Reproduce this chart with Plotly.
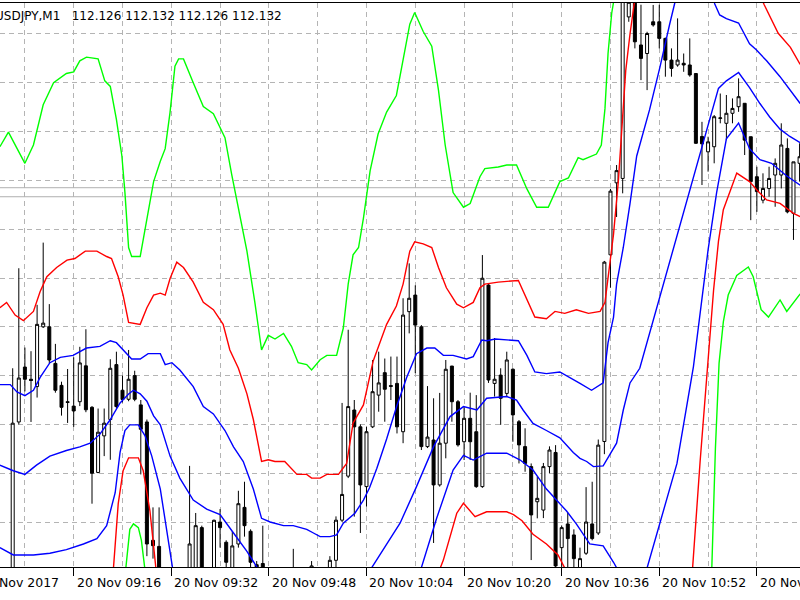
import plotly.graph_objects as go

# ---------------- data ----------------
# Prices are stored in points (0.001) above BASE_PRICE
BASE_PRICE = 112.000
POINT = 0.001

# x axis: minutes after 20 Nov 2017 09:00 (M1 bars)
X_LEFT, X_RIGHT = 3.918, 135.07
Y_BOTTOM, Y_TOP = -18.44, 212.7          # visible price window (points)

LABEL_T = [0, 16, 32, 48, 64, 80, 96, 112, 128]
LABEL_TXT = ["20 Nov 2017", "20 Nov 09:16", "20 Nov 09:32", "20 Nov 09:48",
             "20 Nov 10:04", "20 Nov 10:20", "20 Nov 10:36", "20 Nov 10:52",
             "20 Nov 11:08"]
GRID_P = [0, 20, 40, 60, 80, 100, 120, 140, 160, 180, 200]
BID_P, ASK_P = 133.3, 137.0
HEADER = "USDJPY,M1\u00a0\u00a0\u00a0112.126 112.132 112.126 112.132"

BAR_T = list(range(6, 136))
OPEN = [-25, 41, 63.5, 58.5, 55.5, 80, 80, 65, 56, 49.3, 47.5, 49.3, 64, 47, 20.3, 35.3, 42, 64.5, 54, 50.3,
        60, 48, 41, -7.5, -10, -25, -30, -27, -24, -25, -22, -2.3, -22, -22, 0, -8.3, -21, -9, 6, -3.8,
        -17.5, -17, -21, -27, -30, -28, -25, -22, -26, -22, -20, -24, -20, -15.7, 0.75, 18.8, 45.9, 39, 14.5, 39,
        52, 61.2, 55.9, 56.8, 37, 86.2, 93, 80, 30.9, 33.6, 15.2, 32.3, 63.9, 49.3, 32.9, 42.5, 37, 14.5, 97.1, 56.8,
        60.2, 52.7, 62.6, 41.1, 30.9, 22.7, 8.3, 4.9, 22.7, 28.5, -10.5, -0.8, -5.3, -21, -12.8, -0.8, -4.5, 33, 109.5, 139,
        140.8, 207, 215, 195.5, 192, 205, 205, 198.2, 189.3, 187.3, 188, 187.3, 183.8, 158, 151.7, 153.8, 165.4, 163.4, 167.5, 170.2,
        171.6, 157.9, 141.5, 131.9, 136.7, 142.2, 142.2, 153.1, 126.5, 147]
HIGH = [63, 104, 71.5, 70, 89, 114.5, 89.3, 73, 57.5, 62.7, 67.5, 71.8, 79, 47.5, 46.5, 46.5, 66.7, 69.8, 60, 70.5,
        62, 50, 42, 6, 6, -20, -22, -21, -20, 23, 3.7, -1.5, -20, 1, 5.3, -7.5, -3.8, 12.8, 16.5, -3,
        -16, -1.5, -19, -22, -24, -23, -11, -19.5, -21, -16, -19, -20, -14, 2.3, 48.8, 78.8, 50, 40, 39, 66.4,
        69.8, 67, 67.8, 67.8, 91.7, 106, 97, 80.7, 55.7, 50.7, 52.9, 66.4, 64, 50, 47.3, 53, 52, 109.4, 97.5, 75.4,
        63, 69.8, 63, 41.8, 38.4, 24, 18.6, 24.2, 31, 31.5, -1.5, 3.8, -3, -10.5, 14.3, 16.5, 33.8, 107, 136.5, 146.3,
        222, 216, 218, 212, 200.9, 211.9, 212, 198.5, 194.1, 206.4, 192, 198.2, 184, 164, 157.9, 166.8, 175.6, 175, 173.6, 181.8,
        171.6, 157.9, 145.6, 142.9, 145.6, 149, 163.4, 157.2, 147.6, 155.2]
LOW = [-30, 40, 53.5, 41, 51, 79.5, 65, 53, 43.6, 40.6, 39, 47.5, 45, 7.5, 20, 27, 25.5, 46.5, 49, 49.5,
       49.5, 19.5, -14, -15, -25, -35, -38, -33, -30, -28, -25, -26, -30, -24, -10.5, -22, -23, -10.5, -6, -22,
       -23, -24, -30, -35, -36, -33, -28, -30, -31, -24, -27, -29, -22, -19, 0, 18, 2.2, -4.5, 6.3, 38.5,
       45.2, 41.1, 50, 36.3, 32.3, 77.3, 61, 29.5, 30.3, -8.6, 14.5, 26.1, 41.1, 30.9, 25.4, 25.4, 14, 14, 57, 51.4,
       39.8, 51.4, 32.9, 24, 20.6, -15.6, 1.5, 1.6, 20, -21, -20, -20, -21, -23, -13.5, -7.5, -5.3, 27.8, 96, 125,
       134.7, 205, 194.1, 181.1, 177, 203, 194.1, 182.5, 182.5, 186.6, 184.5, 182.5, 155, 138.1, 143.6, 147, 163.4, 156.5, 163.4, 168.1,
       150.4, 123.7, 127.1, 130.6, 133.3, 129.2, 136.7, 126.5, 115.6, 139.5]
CLOSE = [40.5, 59, 58.5, 58, 81, 81.5, 66.4, 54, 47, 49, 45.5, 65.2, 46, 20, 36.8, 40.5, 63, 47.3, 50.2, 58.5,
         50.3, 38, -9, -9.7, -22, -30, -27, -24, -25, -9, -1.5, -22, -25, 0.7, -2.3, -16.5, -9.8, 7.5, -1.5, -16.5,
         -20, -20, -27, -30, -28, -25, -22, -26, -23, -18, -24, -21, -15.7, 0.75, 11.3, 47.3, 39, 15.2, 37, 53.4,
         57, 54.4, 55.6, 39, 84.8, 91.7, 80.7, 30.9, 34.8, 15.2, 32.3, 62.6, 49.3, 31.6, 42.5, 32.9, 14.5, 99.9, 58.2, 58.5,
         50.7, 66.4, 43.9, 31.6, 24, 2.9, 9.7, 22.7, 29.5, -18, -2.3, -6.8, -15, -15, 0, -6.8, 31.5, 106.5, 135.6, 144,
         216, 213, 196.8, 190, 200.2, 203.7, 198.2, 189.3, 185.9, 189.3, 187.3, 183.2, 155.2, 155, 155.8, 166.1, 165.6, 167.5, 169.5, 174.3,
         156.5, 139.5, 135.4, 136.7, 140.8, 147, 154.5, 127.1, 147.6, 149.7]

# Indicator lines (time in minutes, value in points)
G_UP_T = [3.9, 5.3, 8, 9.4, 11, 12.7, 14.8, 16, 17, 18.1, 20, 21.1, 22, 23, 23.9, 24.4, 25, 25.5, 26.9, 28, 29.1,
          30.2, 31, 31.8, 32.6, 33.2, 34, 35.6, 37.25, 38.9, 40.8, 41.9, 43, 44.4, 45.7, 46.8, 47.9, 49, 50.4, 51.7,
          52.8, 54.2, 55, 56.4, 57.5, 59.1, 60.2, 61, 61.8, 62.7, 63.5, 64.6, 65.9, 67.3, 68.9, 70, 71.1, 71.9, 73.3,
          74.7, 75.8, 76.9, 78.2, 79.9, 81, 82.6, 83.4, 85.6, 87, 88.6, 90.3, 91.9, 93.8, 95.7, 97.1, 98.7, 99.5,
          101.7, 102.5, 103.1, 103.6, 104.2, 104.5, 105.5]
G_UP_P = [153.8, 159.8, 147, 154.5, 171, 180, 183.8, 184.5, 189, 190.5, 189.8, 180.8, 178.5, 165, 150, 135, 112.5,
          108.8, 108.8, 124.5, 139.5, 147.8, 153, 168, 186.8, 189.8, 189.8, 180, 170.3, 167.3, 157.5, 142.5, 129, 111,
          90, 70.5, 76.5, 75, 77.3, 72, 65.3, 64.5, 62.3, 66.5, 68.3, 68.3, 79.5, 97.5, 109.5, 112.5, 124.5, 144, 159,
          168, 174.8, 189, 204, 208.8, 201, 195, 177, 154.5, 135, 129, 130.5, 141.5, 144.8, 145.5, 146.3, 146.3, 136.5,
          129, 129, 139.5, 141, 149.3, 148.5, 150.8, 154.5, 169.5, 192, 208.5, 213, 240]

R_UP_T = [3.9, 5, 6.4, 7.75, 9.4, 10.5, 11.6, 13.2, 14.9, 16.2, 17.9, 19.8, 21.4, 22.2, 23.3, 24.1, 25, 26.9, 28,
          29.1, 30.2, 31, 31.8, 32.9, 34, 35.6, 37.25, 38.9, 40.5, 41.6, 43, 44.4, 45.45, 46.8, 47.9, 49, 50.6, 52.6,
          54.2, 55, 56.4, 57.5, 59.4, 60.75, 61.8, 63.5, 65.1, 67.3, 68.9, 70, 71.1, 71.9, 73.3, 74.7, 75.8, 77.1,
          78.8, 79.9, 81.5, 82.6, 83.4, 85.6, 88.9, 90.3, 91.6, 93.5, 94.9, 96.5, 98.4, 100.4, 102.3, 103.1, 103.9,
          104.5, 105.3, 105.9, 106.5, 107.2, 107.7, 108.2, 110, 115, 120, 126, 128.5, 129.2, 131.5, 133.5, 135.1]
R_UP_P = [87.8, 90, 84.8, 82.5, 86.3, 94.5, 100.5, 104.3, 107.3, 108, 111, 111, 108.8, 108, 100.5, 93, 81.8, 81,
          87.8, 93, 93.8, 93, 99.8, 106.5, 104.3, 98.3, 90, 87, 81, 70.5, 63, 52.5, 42, 24.8, 25.5, 24.8, 24.8, 19.5,
          19.5, 18, 18, 19.5, 19.5, 24, 40.5, 48, 66, 81, 88.5, 97.5, 111, 114.8, 114, 112.5, 104.3, 96, 89.3, 87.8,
          90, 96, 97.5, 98.3, 99, 91.5, 84, 83.3, 86.3, 85.5, 87, 85.5, 86.3, 90, 105, 118, 140, 165, 185, 200, 210,
          218, 235, 250, 245, 228, 216, 212, 200.3, 194.5, 187.5]

B_UP_T = [3.9, 5.6, 6.7, 8, 9.4, 10.5, 12.1, 13.8, 15.9, 18.1, 20.3, 22, 23, 24.4, 25.5, 26.9, 28.2, 30.2, 31, 32.1,
          33.4, 35.6, 37.25, 38.9, 40.8, 42.2, 43.8, 45.45, 46.8, 48.2, 50.4, 52, 54.2, 55.3, 56.4, 58, 59.1, 60.2,
          62.1, 63.5, 64.5, 65.7, 67.3, 68.9, 70.6, 72.2, 73.9, 75.2, 76.6, 78.2, 80.4, 81.5, 82.9, 83.7, 85.1, 88.9,
          90.3, 91.6, 93.5, 95.7, 97.9, 99, 100.9, 102.8, 103.6, 104.5, 105, 106.1, 107.2, 108.3, 110.4, 112.1, 113.7,
          114.5, 116, 118, 120, 121.1, 121.9, 123, 125, 126.8, 127.9, 129.6, 131.8, 133.4, 135.1]
B_UP_P = [56.3, 56.3, 53.3, 51.8, 54, 59.3, 65.3, 67.5, 68.3, 71.3, 72, 74.3, 73.5, 69.8, 66.8, 66.8, 69, 69, 64.5,
          65.3, 62.3, 55.5, 47.3, 44.3, 37.5, 30.8, 24.8, 13.5, 1.5, 0, -1.5, -1.5, -3, -4.5, -6, -6, -5.3, -0.5, 3.6,
          9, 14, 22, 34, 47, 59.3, 69, 71.3, 71.3, 68.3, 68.3, 66.8, 67.8, 74.6, 74.3, 75, 74.3, 68.3, 61.5, 60.8,
          61.5, 58.5, 56.8, 54, 57, 73.5, 84, 97.5, 112.5, 130.5, 150, 168.9, 186.3, 204, 212.3, 225, 230, 222, 212.3,
          207.8, 206.3, 204.5, 196, 193.5, 189, 182.5, 177, 171.5]

B_MID_T = [3.9, 6.1, 8, 9.9, 12.1, 14.8, 17, 18.7, 20.3, 22, 23.6, 25, 25.8, 26.9, 28, 29.1, 30.2, 31.8, 33.4, 35.6,
           37.8, 40, 42.2, 44.4, 46.5, 50, 55, 60, 63, 65.7, 69.5, 72.2, 75, 77.7, 79.9, 82.1, 83.7, 87, 88.6, 89.7,
           91.3, 93.5, 95.7, 97.9, 99, 100.1, 101.2, 102.8, 105, 106.1, 107.2, 108.8, 112.1, 120.5, 121.7, 123, 125,
           126.8, 128.5, 130.1, 131.8, 133.4, 135.1]
B_MID_P = [23.3, 21, 19.5, 23.3, 27, 29.3, 30.8, 32.3, 36, 42, 48.8, 52.5, 54, 52.5, 49.5, 43.5, 39.8, 27, 18, 9,
           5.3, 3, -4.5, -12, -20.3, -28, -32, -30, -26, -15.6, -0.5, 14.5, 30.9, 43.2, 47.3, 45.9, 50.7, 51.4, 50,
           45.8, 40.4, 37.5, 34.5, 28.5, 26.1, 24.8, 22.7, 23, 32.3, 45.9, 57, 63, 92.5, 166.5, 177.7, 180.8, 184.2,
           178, 171.5, 166, 161, 158, 155.5]

B_LOW_T = [3.9, 6.1, 9.4, 12.1, 14.8, 17.6, 19.8, 21.4, 22.8, 23.6, 24.4, 25.2, 26.6, 27.7, 28.8, 30.2, 32.3, 40,
           55, 70, 72.8, 75.5, 78.2, 79.9, 81.5, 83.7, 87, 89.2, 91.3, 93.5, 96.8, 98.4, 100.6, 102.8, 104.5, 105.3,
           107.5, 109.9, 114.9, 117.6, 120, 121.4, 123, 125, 126.8, 128.5, 130.4, 132.8, 135.1]
B_LOW_P = [-10.5, -13.5, -13.5, -12.8, -11.3, -9, -6.8, -1.5, 12, 28.5, 37.5, 39.8, 39.8, 35.3, 27, 13.5, -20.3,
           -45, -50, -35, -20.3, 1.5, 21.3, 27.3, 25.4, 28.2, 28.2, 25.4, 21.3, 13.5, 4.5, -0.75, -9, -9.8, -16.5,
           -20.3, -30, -19.7, 24, 63.7, 111.5, 135, 157, 163.5, 153, 148.5, 147, 142, 138]

R_LOW_T = [22.5, 23.3, 24.1, 25, 26.6, 27.4, 28.5, 29.5, 35, 55, 72, 76.6, 78.8, 79.9, 81.8, 83.7, 87, 88.1, 89.5,
           91.3, 93.5, 95.4, 96.8, 105, 115, 117.4, 118.7, 119.8, 120.9, 121.7, 122.5, 124.7, 126.8, 128, 129.6,
           131.8, 134, 135.1]
R_LOW_P = [-19.5, 7.5, 21, 26.3, 26.3, 21, 4.5, -19.5, -60, -80, -45, -15.6, 3.6, 7.7, 2.2, 4.2, 4.2, 3, 0.5, -5,
           -9, -13.5, -20.3, -70, -60, -21, 25, 60, 95, 115, 128, 143, 139.5, 136.1, 132, 130.6, 126.5, 125.1]

G_LOW_T = [24.5, 25.2, 25.8, 26.6, 27.1, 27.7, 30, 60, 100, 118, 120.6, 121.2, 121.8, 122.5, 123.3, 124.7, 126.6,
           127.4, 128.7, 129.9, 131.8, 132.9, 135.1]
G_LOW_P = [-20, -3, -0.75, -2.3, -7.5, -20, -60, -150, -120, -60, -19.7, 30, 65, 82, 93, 101, 104.5, 100.5, 87,
           84, 91, 86.3, 93.5]


def price(vals):
    return [BASE_PRICE + POINT * v for v in vals]


# ---------------- figure ----------------
GRID_COLOR = "#b4b4b4"
GRID_DASH = "5px,4px"
FONT = "DejaVu Sans"

fig = go.Figure()

fig.add_trace(go.Candlestick(
    x=BAR_T, open=price(OPEN), high=price(HIGH), low=price(LOW), close=price(CLOSE),
    increasing=dict(line=dict(color="black", width=1), fillcolor="white"),
    decreasing=dict(line=dict(color="black", width=1), fillcolor="black"),
    whiskerwidth=0, showlegend=False, hoverinfo="skip"))

lines = [
    (G_UP_T, G_UP_P, "#00ff00"), (R_UP_T, R_UP_P, "#ff0000"), (B_UP_T, B_UP_P, "#0000ff"),
    (B_MID_T, B_MID_P, "#0000ff"), (B_LOW_T, B_LOW_P, "#0000ff"), (R_LOW_T, R_LOW_P, "#ff0000"),
    (G_LOW_T, G_LOW_P, "#00ff00"),
]
for tt, pp, col in lines:
    fig.add_trace(go.Scatter(x=tt, y=price(pp), mode="lines", line=dict(color=col, width=1.4),
                             showlegend=False, hoverinfo="skip"))

# bid / ask lines
for lvl in (BID_P, ASK_P):
    fig.add_shape(type="line", xref="paper", x0=0, x1=1, yref="y",
                  y0=BASE_PRICE + POINT * lvl, y1=BASE_PRICE + POINT * lvl,
                  line=dict(color="#b0b0b0", width=1), layer="below")

# time labels (left aligned at their tick like the terminal)
for t, txt in zip(LABEL_T, LABEL_TXT):
    fig.add_annotation(x=(t - X_LEFT) / (X_RIGHT - X_LEFT), xref="paper", xanchor="left", xshift=1,
                       y=0, yref="paper", yanchor="top", yshift=-6, text=txt, showarrow=False,
                       font=dict(family=FONT, size=12.5, color="black"))

fig.add_annotation(x=-7 / 800, xref="paper", xanchor="left", y=1, yref="paper", yanchor="top", yshift=-4,
                   text=HEADER, showarrow=False, font=dict(family=FONT, size=12, color="black"))

fig.update_layout(
    width=800, height=600,
    margin=dict(l=0, r=0, t=3, b=33, autoexpand=False),
    paper_bgcolor="white", plot_bgcolor="white",
    showlegend=False,
    xaxis=dict(range=[X_LEFT, X_RIGHT], tickmode="array", tickvals=LABEL_T, showticklabels=False,
               ticks="outside", ticklen=8, tickcolor="black", tickwidth=1,
               showgrid=True, gridcolor=GRID_COLOR, griddash=GRID_DASH, gridwidth=1,
               showline=True, linecolor="black", linewidth=1, mirror=True, zeroline=False,
               rangeslider=dict(visible=False),
               minor=dict(tickmode="linear", tick0=0, dtick=8, showgrid=True, gridcolor=GRID_COLOR,
                          griddash=GRID_DASH, gridwidth=1, ticks="")),
    yaxis=dict(range=price([Y_BOTTOM, Y_TOP]), tickmode="array", tickvals=price(GRID_P),
               showticklabels=False, ticks="", showgrid=True, gridcolor=GRID_COLOR, griddash=GRID_DASH,
               gridwidth=1, zeroline=False, showline=False),
)

fig.write_html("out.html")
